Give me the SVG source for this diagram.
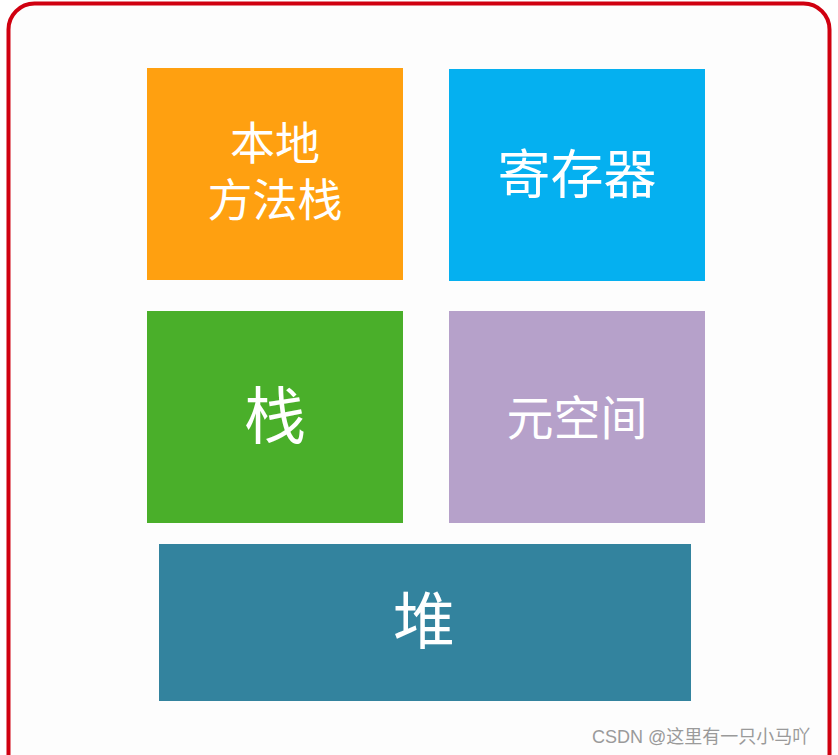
<svg xmlns="http://www.w3.org/2000/svg" width="838" height="755" viewBox="0 0 838 755">
<style>
.lbl{font-family:"Noto Sans CJK SC","Noto Sans",sans-serif;fill:#ffffff;text-anchor:middle;dominant-baseline:central}
.lbl2{font-family:"Liberation Sans","Noto Sans CJK SC",sans-serif;fill:#ffffff;text-anchor:middle}
.wm{font-family:"Liberation Sans","Noto Sans CJK SC",sans-serif;fill:#9a9a9a;font-size:18px}
</style>
<rect x="0" y="0" width="838" height="755" fill="#ffffff"/>
<rect x="8.5" y="3.5" width="821" height="790" rx="26" ry="26" fill="#fdfdfd" stroke="#d00010" stroke-width="4"/>
<g id="native-stack">
<rect x="147" y="68" width="256" height="212" fill="#ffa010"/>
<text class="lbl2" font-size="45"><tspan x="275" y="160">本地</tspan><tspan x="275" y="217">方法栈</tspan></text>
</g>
<g id="register">
<rect x="449" y="69" width="256" height="212" fill="#05b0f0"/>
<text class="lbl" x="577" y="171" font-size="53">寄存器</text>
</g>
<g id="stack">
<rect x="147" y="311" width="256" height="212" fill="#4aaf2a"/>
<text class="lbl" x="275" y="412" font-size="62">栈</text>
</g>
<g id="metaspace">
<rect x="449" y="311" width="256" height="212" fill="#b6a1ca"/>
<text class="lbl" x="577" y="414" font-size="47">元空间</text>
</g>
<g id="heap">
<rect x="159" y="544" width="532" height="157" fill="#33839e"/>
<text class="lbl" x="424" y="617" font-size="62">堆</text>
</g>
<g id="connectors"></g>
<text class="wm" x="592" y="743">CSDN @这里有一只小马吖</text>
</svg>
